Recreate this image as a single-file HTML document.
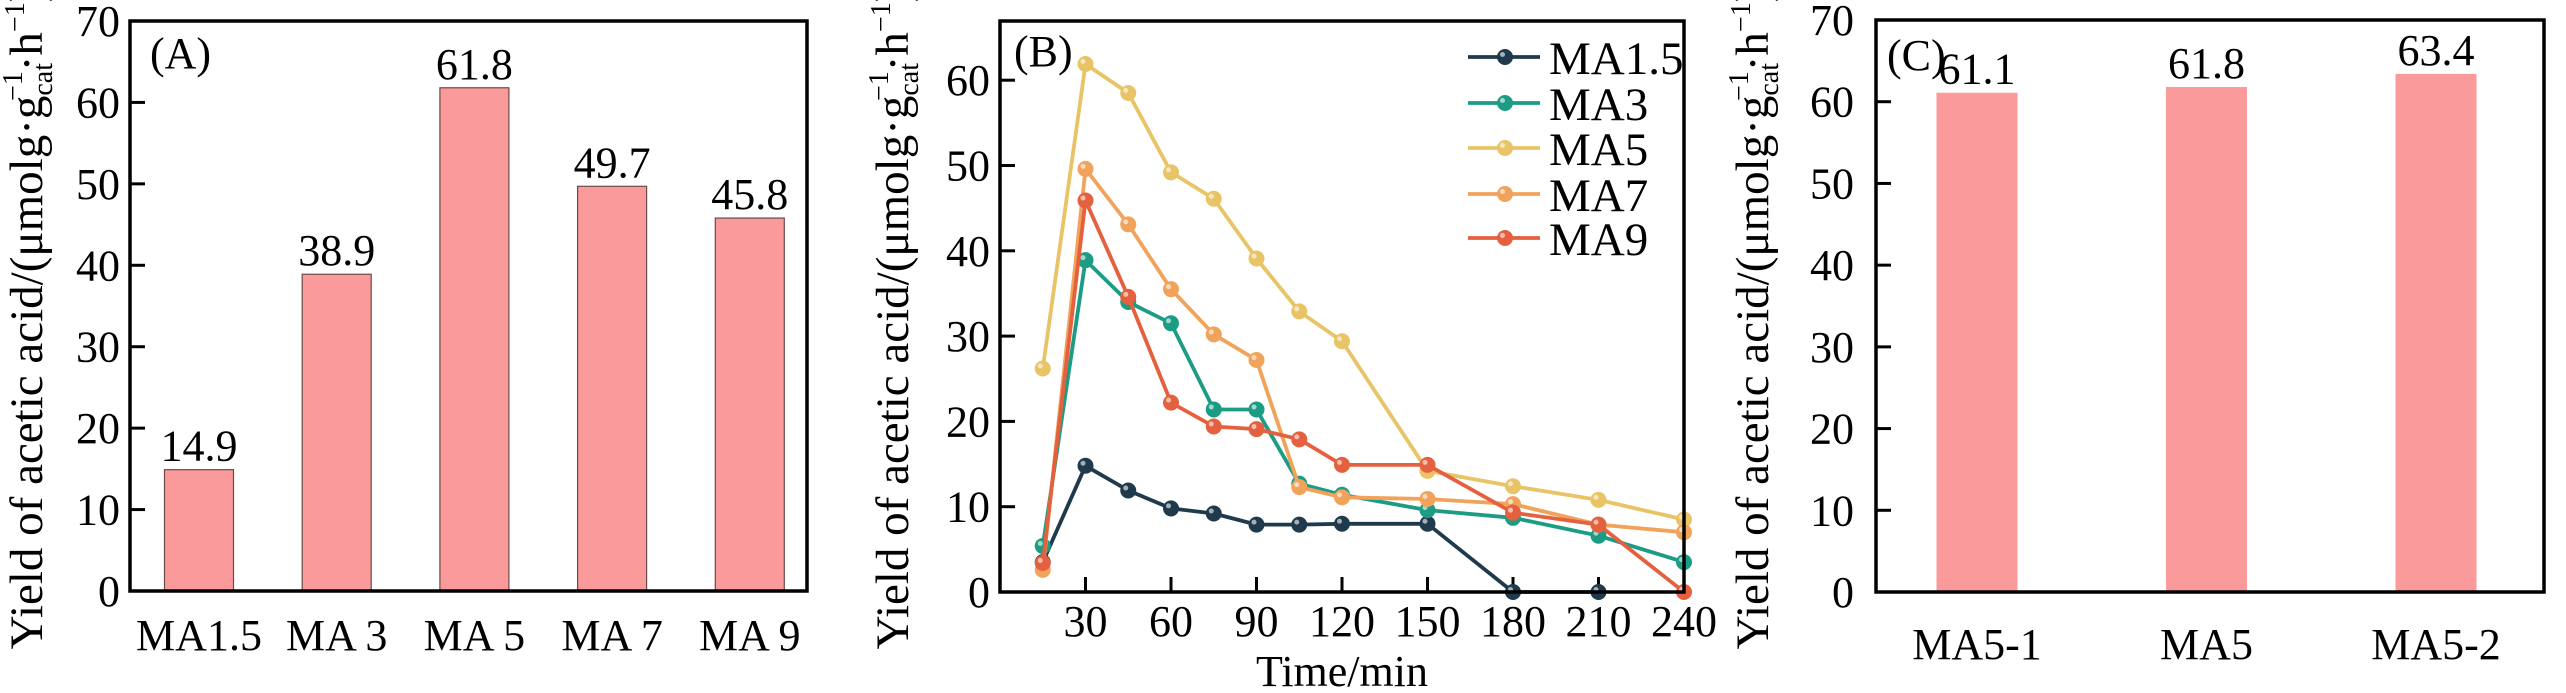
<!DOCTYPE html>
<html><head><meta charset="utf-8"><style>
html,body{margin:0;padding:0;background:#fff;}
svg{display:block;}
svg text, svg tspan{font-family:"Liberation Serif","DejaVu Serif",serif;}
</style></head><body>
<svg id="fig" width="2566" height="693" viewBox="0 0 2566 693" xmlns="http://www.w3.org/2000/svg" font-family="Liberation Serif, serif">
</svg>
<script>
// Panel A data
const catsA = ["MA1.5","MA 3","MA 5","MA 7","MA 9"];
const valsA = [14.9, 38.9, 61.8, 49.7, 45.8];
const labelsA = ["14.9","38.9","61.8","49.7","45.8"];
// Panel B data
const timesB = [15,30,45,60,75,90,105,120,150,180,210,240];
const seriesNames = ["MA1.5","MA3","MA5","MA7","MA9"];
const ma15 = [3.5,14.8,11.9,9.8,9.2,7.9,7.9,8.0,8.0,0,0];
const ma3 = [5.4,38.9,34.0,31.5,21.4,21.4,12.7,11.4,9.6,8.7,6.6,3.5];
const ma5 = [26.2,61.9,58.5,49.2,46.1,39.1,32.9,29.4,14.2,12.4,10.8,8.5];
const ma7 = [2.6,49.6,43.1,35.5,30.2,27.2,12.3,11.1,10.9,10.3,7.9,7.0];
const ma9 = [3.4,45.9,34.6,22.2,19.4,19.1,17.9,14.9,14.9,9.3,7.9,0];
const xTicksB = [30,60,90,120,150,180,210,240];
const yTicksB = [0,10,20,30,40,50,60];
// Panel C data
const catsC = ["MA5-1","MA5","MA5-2"];
const valsC = [61.1, 61.8, 63.4];
const labelsC = ["61.1","61.8","63.4"];
const yTicks70 = [0,10,20,30,40,50,60,70];

const NS="http://www.w3.org/2000/svg";
const svg=document.getElementById('fig');
function mk(tag,attrs,parent,text){const e=document.createElementNS(NS,tag);for(const k in attrs)e.setAttribute(k,attrs[k]);if(text!==undefined)e.textContent=text;(parent||svg).appendChild(e);return e;}

function yTitle(cx,cy,g){
  const t=mk('text',{x:0,y:0,'font-size':47,'text-anchor':'middle',transform:`translate(${cx},${cy}) rotate(-90)`},g);
  
  
  mk('tspan',{},t,'Yield of acetic acid/(μmolg·g');
  mk('tspan',{'font-size':28,dy:10},t,'cat');
  mk('tspan',{'font-size':28,dy:-30,dx:-38},t,'−1');
  mk('tspan',{dy:20},t,'·h');
  mk('tspan',{'font-size':28,dy:-18},t,'−1');
  mk('tspan',{dy:18},t,')');
}

// ---------- Panel A ----------
(function(){
  const g=mk('g',{});
  
  
  const L=130,R=807,T=21,B=591,max=70;
  const y=v=>B-(B-T)*v/max;
  const x0=199,step=137.7,bw=69;
  catsA.forEach((c,i)=>{
    const cx=x0+i*step;
    const r=mk('rect',{x:cx-bw/2,y:y(valsA[i]),width:bw,height:B-y(valsA[i]),fill:'#FA9A9A',stroke:'#6b4a4a','stroke-width':1.2},g);
    
    
    const t=mk('text',{x:cx,y:y(valsA[i])-9,'font-size':44,'text-anchor':'middle'},g,labelsA[i]);
    
    
    const xl=mk('text',{x:cx,y:650,'font-size':44,'text-anchor':'middle'},g,c);
    
    
  });
  yTicks70.forEach(v=>{
    mk('line',{x1:L,x2:L+15,y1:y(v),y2:y(v),stroke:'#000','stroke-width':3},g);
    const t=mk('text',{x:120,y:y(v)+15,'font-size':44,'text-anchor':'end'},g,String(v));
    
    
  });
  const f=mk('rect',{x:L,y:T,width:R-L,height:B-T,fill:'none',stroke:'#000','stroke-width':3.5},g);
  
  
  const p=mk('text',{x:150,y:68,'font-size':44},g,'(A)');
  
  
  yTitle(42,318,g);
})();

// ---------- Panel B ----------
(function(){
  const g=mk('g',{});
  
  
  const L=1000,R=1684,T=21,B=592;
  const x=t=>L+(R-L)*t/240;
  const y=v=>B-85.3*v/10;
  yTicksB.forEach(v=>{
    mk('line',{x1:L,x2:L+15,y1:y(v),y2:y(v),stroke:'#000','stroke-width':3},g);
    const t=mk('text',{x:990,y:y(v)+15,'font-size':44,'text-anchor':'end'},g,String(v));
    
    
  });
  xTicksB.forEach(v=>{
    if(v<240) mk('line',{x1:x(v),x2:x(v),y1:B,y2:B-15,stroke:'#000','stroke-width':3},g);
    const t=mk('text',{x:x(v),y:636,'font-size':44,'text-anchor':'middle'},g,String(v));
    
    
  });
  const xt=mk('text',{x:1342,y:686,'font-size':44,'text-anchor':'middle'},g,'Time/min');
  
  
  const all=[ma15,ma3,ma5,ma7,ma9];
  const cols=['#1E3A4C','#1C9C84','#E9C466','#F2A35B','#E4603E'];
  [0,1,2,3,4].forEach(si=>{
    const d=all[si];
    const sg=mk('g',{},g);
    
    
    const pts=d.map((v,i)=>x(timesB[i]).toFixed(1)+','+y(v).toFixed(1)).join(' ');
    mk('polyline',{points:pts,fill:'none',stroke:cols[si],'stroke-width':3.8,'stroke-linejoin':'round'},sg);
    d.forEach((v,i)=>{
      const c=mk('circle',{cx:x(timesB[i]),cy:y(v),r:8,fill:cols[si]},sg);
      
      
      mk('circle',{cx:x(timesB[i])-2.5,cy:y(v)-2.5,r:2.5,fill:'#fff','fill-opacity':0.6},sg);
    });
  });
  const f=mk('rect',{x:L,y:T,width:R-L,height:B-T,fill:'none',stroke:'#000','stroke-width':3.5},g);
  
  
  const p=mk('text',{x:1014,y:66,'font-size':44},g,'(B)');
  
  
  const lg=mk('g',{},g);
  
  
  const rows=[57,103,148,194,238];
  seriesNames.forEach((n,i)=>{
    const e=mk('g',{},lg);
    
    
    mk('line',{x1:1468,x2:1540,y1:rows[i],y2:rows[i],stroke:cols[i],'stroke-width':3.8},e);
    mk('circle',{cx:1505,cy:rows[i],r:8,fill:cols[i]},e);
    mk('circle',{cx:1502.5,cy:rows[i]-2.5,r:2.5,fill:'#fff','fill-opacity':0.6},e);
    mk('text',{x:1549,y:rows[i]+17,'font-size':47},e,n);
  });
  yTitle(908,318,g);
})();

// ---------- Panel C ----------
(function(){
  const g=mk('g',{});
  
  
  const L=1876,R=2544,T=20,B=592,max=70;
  const y=v=>B-(B-T)*v/max;
  const x0=1977,step=229.5,bw=81;
  catsC.forEach((c,i)=>{
    const cx=x0+i*step;
    const r=mk('rect',{x:cx-bw/2,y:y(valsC[i]),width:bw,height:B-y(valsC[i]),fill:'#FA9A9A'},g);
    
    
    const t=mk('text',{x:cx,y:y(valsC[i])-9,'font-size':44,'text-anchor':'middle'},g,labelsC[i]);
    
    
    const xl=mk('text',{x:cx,y:659,'font-size':44,'text-anchor':'middle'},g,c);
    
    
  });
  yTicks70.forEach(v=>{
    mk('line',{x1:L,x2:L+15,y1:y(v),y2:y(v),stroke:'#000','stroke-width':3},g);
    const t=mk('text',{x:1854,y:y(v)+15,'font-size':44,'text-anchor':'end'},g,String(v));
    
    
  });
  const f=mk('rect',{x:L,y:T,width:R-L,height:B-T,fill:'none',stroke:'#000','stroke-width':3.5},g);
  
  
  const p=mk('text',{x:1887,y:70,'font-size':44},g,'(C)');
  
  
  yTitle(1768,318,g);
})();
</script>
</body></html>
